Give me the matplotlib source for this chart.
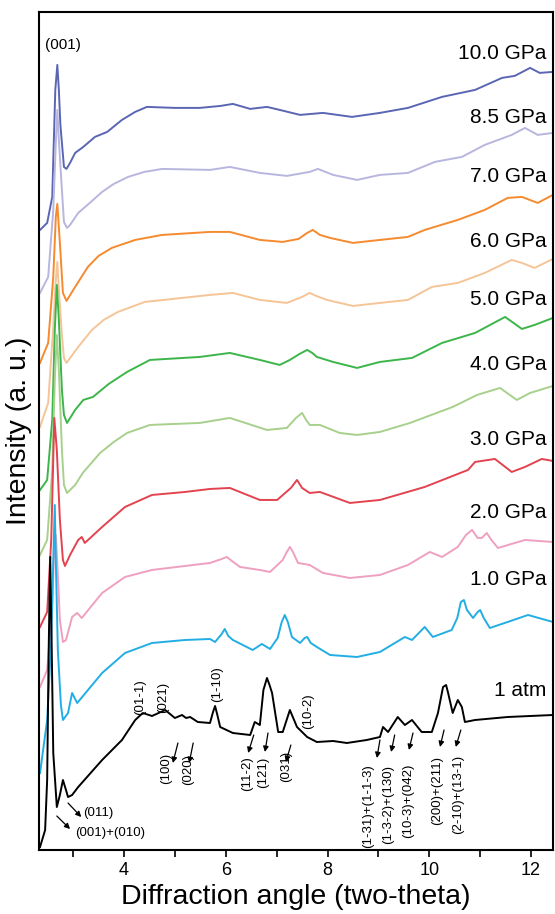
import matplotlib
matplotlib.use("Agg")
from matplotlib import pyplot as plt

plt.rcParams['font.family'] = ['Liberation Sans', 'DejaVu Sans']

# pressures, top curve first
labels = ["10.0 GPa", "8.5 GPa", "7.0 GPa", "6.0 GPa", "5.0 GPa",
          "4.0 GPa", "3.0 GPa", "2.0 GPa", "1.0 GPa", "1 atm"]
colors = ["#5a66b4", "#b8b6de", "#f58a2e", "#f5c497", "#3cb54a",
          "#a8d08d", "#e2434f", "#efa0c0", "#22aee4", "#000000"]
label_y = [796, 732, 673, 608, 550, 485, 410, 337, 270, 159]

# two-theta (deg) and stacked intensity (a.u.)
tt_100 = [2.35, 2.49, 2.59, 2.62, 2.65, 2.69, 2.72, 2.75, 2.78, 2.82, 2.87, 2.94, 3.04, 3.20, 3.43, 3.67,
          3.96, 4.22, 4.45, 5.00, 5.49, 5.90, 6.14, 6.48, 6.81, 7.06, 7.46, 7.91, 8.48, 9.03, 9.58,
          10.25, 10.90, 11.43, 11.68, 11.98, 12.17, 12.43]
i_100 = [620, 627, 653, 707, 760, 785, 760, 725, 707, 683, 681, 687, 697, 703, 713, 718,
         730, 738, 743, 742, 742, 744, 746, 741, 743, 740, 735, 737, 733, 737, 742,
         753, 760, 772, 774, 782, 777, 778]

tt_85 = [2.35, 2.51, 2.61, 2.66, 2.69, 2.72, 2.78, 2.82, 2.88, 2.94, 3.10, 3.35, 3.57, 3.80, 4.08, 4.40,
         4.75, 5.69, 6.08, 6.67, 7.20, 7.65, 7.81, 8.11, 8.58, 9.03, 9.58, 10.11, 10.64, 11.09,
         11.62, 11.88, 12.13, 12.43]
i_85 = [557, 573, 640, 707, 740, 710, 660, 628, 622, 625, 637, 648, 658, 666, 673, 678,
        681, 680, 683, 677, 674, 678, 681, 675, 670, 675, 677, 688, 693, 705,
        715, 722, 715, 717]

tt_70 = [2.35, 2.51, 2.61, 2.66, 2.69, 2.74, 2.80, 2.87, 3.04, 3.29, 3.50, 3.76, 4.22, 4.75, 5.69, 6.08,
         6.67, 7.12, 7.43, 7.60, 7.71, 7.85, 8.05, 8.50, 9.03, 9.58, 9.91, 10.56, 11.09, 11.54,
         11.82, 12.13, 12.43]
i_70 = [487, 507, 573, 633, 646, 607, 557, 549, 563, 583, 594, 602, 610, 615, 618, 618,
        610, 608, 611, 617, 620, 615, 612, 607, 610, 613, 620, 630, 640, 652,
        653, 647, 655]

tt_60 = [2.35, 2.51, 2.61, 2.66, 2.69, 2.72, 2.78, 2.82, 2.87, 3.10, 3.37, 3.60, 3.88, 4.41, 5.69, 6.14,
         6.67, 7.20, 7.50, 7.65, 7.78, 7.99, 8.50, 9.03, 9.58, 10.05, 10.56, 11.09, 11.62, 11.82,
         12.07, 12.43]
i_60 = [423, 447, 523, 570, 588, 560, 515, 492, 487, 503, 520, 530, 538, 548, 555, 557,
        550, 547, 553, 557, 554, 550, 544, 547, 550, 563, 567, 577, 590, 587,
        582, 591]

tt_50 = [2.35, 2.49, 2.59, 2.64, 2.68, 2.72, 2.78, 2.82, 2.88, 3.04, 3.20, 3.39, 3.70, 4.06, 4.51, 5.49,
         6.08, 6.67, 7.06, 7.26, 7.45, 7.60, 7.70, 7.79, 8.11, 8.58, 9.03, 9.66, 10.25, 10.90,
         11.49, 11.82, 12.07, 12.43]
i_50 = [360, 370, 430, 520, 565, 530, 460, 435, 427, 440, 450, 453, 466, 478, 490, 493,
        497, 490, 485, 490, 496, 500, 497, 493, 488, 482, 488, 492, 507, 517,
        533, 521, 525, 532]

tt_40 = [2.35, 2.49, 2.59, 2.64, 2.68, 2.72, 2.78, 2.82, 2.88, 3.04, 3.19, 3.53, 3.80, 4.06, 4.51, 5.49,
         6.08, 6.81, 7.20, 7.38, 7.50, 7.58, 7.65, 7.85, 8.24, 8.58, 9.03, 9.62, 10.46, 10.94,
         11.39, 11.72, 11.98, 12.43]
i_40 = [295, 310, 380, 470, 515, 480, 400, 365, 357, 365, 377, 397, 408, 417, 425, 427,
        432, 420, 422, 432, 437, 430, 425, 425, 417, 415, 418, 427, 443, 455,
        462, 450, 457, 464]

tt_30 = [2.35, 2.49, 2.57, 2.63, 2.68, 2.74, 2.80, 2.84, 2.94, 3.10, 3.17, 3.23, 3.57, 4.02, 4.55, 5.20,
         5.69, 6.08, 6.67, 7.01, 7.28, 7.40, 7.50, 7.65, 7.85, 8.44, 9.03, 9.91, 10.76, 10.90,
         11.29, 11.62, 11.88, 12.21, 12.43]
i_30 = [223, 238, 310, 432, 400, 330, 290, 284, 295, 310, 313, 307, 323, 343, 355, 358,
        361, 362, 350, 350, 362, 370, 362, 357, 358, 347, 350, 363, 380, 388,
        391, 378, 383, 391, 389]

tt_20 = [2.35, 2.49, 2.59, 2.62, 2.66, 2.70, 2.74, 2.80, 2.86, 2.98, 3.08, 3.17, 3.57, 4.02, 4.55, 5.69,
         5.92, 6.02, 6.12, 6.28, 6.67, 6.87, 7.12, 7.20, 7.26, 7.32, 7.42, 7.65, 7.91, 8.44,
         9.03, 9.58, 10.01, 10.25, 10.56, 10.72, 10.84, 10.95, 11.03, 11.13, 11.22, 11.35, 11.88,
         12.43]
i_20 = [163, 180, 243, 290, 315, 275, 230, 208, 210, 233, 237, 232, 257, 273, 280, 287,
        291, 293, 289, 283, 280, 278, 290, 298, 303, 298, 287, 285, 277, 272,
        275, 285, 298, 293, 303, 315, 320, 312, 312, 317, 310, 302, 310,
        308]

tt_10 = [2.35, 2.49, 2.57, 2.61, 2.64, 2.66, 2.70, 2.76, 2.80, 2.90, 2.98, 3.08, 3.57, 4.02, 4.55, 5.20,
         5.69, 5.79, 5.92, 5.98, 6.05, 6.14, 6.53, 6.71, 6.87, 7.02, 7.10, 7.16, 7.22, 7.30,
         7.46, 7.55, 7.60, 7.67, 7.79, 8.05, 8.58, 9.03, 9.52, 9.66, 9.91, 10.07, 10.44, 10.55,
         10.62, 10.68, 10.74, 10.86, 10.95, 11.00, 11.07, 11.19, 11.54, 11.94, 12.43]
i_10 = [77, 130, 210, 290, 345, 290, 200, 145, 130, 137, 157, 147, 177, 197, 207, 210,
        211, 208, 216, 221, 214, 210, 200, 206, 201, 212, 228, 235, 228, 213,
        207, 212, 213, 207, 203, 195, 193, 198, 213, 210, 223, 213, 220, 232,
        248, 250, 240, 232, 238, 240, 232, 222, 228, 235, 228]

tt_atm = [2.35, 2.45, 2.49, 2.52, 2.55, 2.58, 2.61, 2.68, 2.74, 2.80, 2.86, 2.90, 2.98, 3.10, 3.57, 3.96,
          4.22, 4.37, 4.55, 4.81, 5.00, 5.14, 5.22, 5.30, 5.45, 5.69, 5.75, 5.79, 5.83, 5.89, 6.14,
          6.48, 6.57, 6.67, 6.74, 6.81, 6.86, 6.91, 7.03, 7.12, 7.26, 7.40, 7.60, 7.79, 8.11, 8.38,
          8.77, 9.03, 9.09, 9.19, 9.38, 9.52, 9.66, 9.85, 10.05, 10.17, 10.27, 10.33, 10.37, 10.46,
          10.56, 10.64, 10.70, 10.90, 11.54, 12.43]
i_atm = [3, 20, 70, 200, 293, 200, 97, 43, 55, 70, 60, 53, 55, 63, 90, 110,
         130, 137, 134, 140, 132, 135, 132, 133, 128, 127, 138, 144, 136, 123, 117,
         115, 128, 125, 160, 172, 165, 157, 118, 118, 140, 123, 113, 108, 109, 107,
         110, 113, 123, 118, 133, 125, 130, 118, 118, 137, 163, 165, 157, 137,
         150, 143, 128, 130, 133, 135]

curves = [(tt_100, i_100), (tt_85, i_85), (tt_70, i_70), (tt_60, i_60), (tt_50, i_50),
          (tt_40, i_40), (tt_30, i_30), (tt_20, i_20), (tt_10, i_10), (tt_atm, i_atm)]

# rotated peak labels on the 1 atm pattern: text, text position, arrow (tail, head) or None
peak_text = ["(01-1)", "(021)", "(1-10)", "(10-2)", "(100)", "(020)", "(11-2)", "(121)", "(031)",
             "(1-31)+(1-1-3)", "(1-3-2)+(130)", "(10-3)+(042)", "(200)+(211)", "(2-10)+(13-1)"]
peak_pos = [(4.31, 153), (4.77, 153), (5.83, 166), (7.61, 139), (4.83, 82), (5.26, 81), (6.42, 76),
            (6.73, 78), (7.18, 84), (8.79, 44), (9.19, 46), (9.58, 49), (10.15, 60), (10.56, 56)]
peak_arrow = [None, None, None, None,
              ((5.06, 107), (4.96, 87)), ((5.36, 107), (5.28, 87)), ((6.55, 115), (6.44, 97)),
              ((6.83, 117), (6.77, 98)), ((7.28, 105), (7.18, 88)), ((9.03, 110), (8.97, 92)),
              ((9.32, 115), (9.25, 98)), ((9.68, 117), (9.60, 100)), ((10.29, 120), (10.21, 103)),
              ((10.62, 120), (10.52, 103))]

fig = plt.figure(figsize=(5.55, 9.14), dpi=100)
ax = fig.add_axes([0.0703, 0.070, 0.926, 0.917])

for (tt, inten), c in zip(curves, colors):
    ax.plot(tt, inten, color=c, lw=1.4)

for lab, y in zip(labels, label_y):
    ax.text(12.31, y, lab, ha="right", va="center", fontsize=15)

ax.text(2.80, 805, "(001)", ha="center", va="center", fontsize=11)

arrow_kw = dict(arrowstyle="-|>", color="k", lw=0.9, mutation_scale=8, shrinkA=0, shrinkB=0)
for t, p, a in zip(peak_text, peak_pos, peak_arrow):
    ax.text(p[0], p[1], t, rotation=90, ha="center", va="center", fontsize=9.5)
    if a is not None:
        ax.annotate("", xy=a[1], xytext=a[0], arrowprops=arrow_kw)

# low-angle labels, horizontal
ax.text(3.19, 37, "(011)", ha="left", va="center", fontsize=9.5)
ax.annotate("", xy=(3.16, 33), xytext=(2.90, 47), arrowprops=arrow_kw)
ax.text(3.04, 17, "(001)+(010)", ha="left", va="center", fontsize=9.5)
ax.annotate("", xy=(2.94, 21), xytext=(2.68, 34), arrowprops=arrow_kw)

ax.set_xlim(2.33, 12.43)
ax.set_ylim(0, 838)
ax.set_xticks([4, 6, 8, 10, 12])
ax.set_xticks([3, 5, 7, 9, 11], minor=True)
ax.set_yticks([])
ax.tick_params(axis="x", which="both", direction="out", length=5, width=1.2, labelsize=13)
for s in ax.spines.values():
    s.set_linewidth(1.5)

ax.set_xlabel("Diffraction angle (two-theta)", fontsize=20.5, labelpad=4)
ax.set_ylabel("Intensity (a. u.)", fontsize=20.5, labelpad=5)

fig.savefig("out.png", dpi=100)
